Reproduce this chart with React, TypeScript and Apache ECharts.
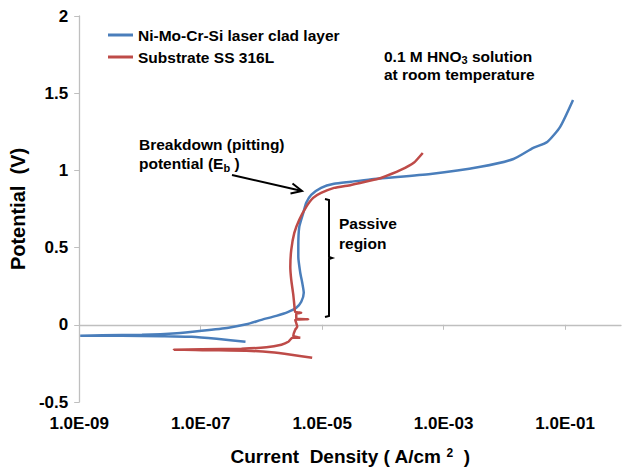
import React, { useEffect, useRef } from "react";
import * as echarts from "echarts";

// Ni-Mo-Cr-Si laser clad layer (blue)
const cladCurrent = [
  5.47e-7, 1.83e-7, 7.1e-8, 2.3e-8, 5.1e-9, 1.04e-9,
  2.4e-9, 1.08e-8, 4.05e-8, 1.04e-7, 2.88e-7, 5.68e-7, 1.0e-6, 1.76e-6, 2.77e-6, 3.75e-6,
  4.53e-6, 4.98e-6, 4.7e-6, 4.36e-6, 4.05e-6, 4.05e-6, 4.2e-6, 4.89e-6, 5.47e-6, 6.6e-6,
  9.6e-6, 1.57e-5, 2.99e-5, 7.1e-5, 6.1e-4, 4.05e-3, 1.41e-2, 2.99e-2, 5.07e-2, 8.28e-2, 0.135,
];
const cladPotential = [
  -0.11, -0.091, -0.078, -0.074, -0.071, -0.071,
  -0.068, -0.065, -0.055, -0.039, -0.019, 0.003, 0.032, 0.058, 0.084, 0.11,
  0.149, 0.207, 0.272, 0.337, 0.44, 0.505, 0.634, 0.725, 0.79, 0.841,
  0.887, 0.913, 0.926, 0.945, 0.977, 1.023, 1.074, 1.146, 1.184, 1.282, 1.456,
];

// Substrate SS 316L (red)
const substrateCurrent = [
  6.85e-6, 3.1e-6, 1.46e-6, 5.68e-7, 1.83e-7, 3.6e-8,
  1.04e-7, 4.7e-7, 1.21e-6, 2.13e-6, 2.77e-6, 3.22e-6, 4.36e-6, 3.35e-6, 3.6e-6, 3.89e-6,
  3.6e-6, 5.89e-6, 3.75e-6, 3.75e-6, 4.53e-6, 3.6e-6, 3.48e-6, 3.35e-6, 3.1e-6, 2.99e-6,
  3.1e-6, 3.48e-6, 4.2e-6, 5.47e-6, 7.1e-6, 9.6e-6, 1.57e-5, 2.99e-5, 7.1e-5, 9.3e-5,
  1.97e-4, 3.22e-4, 4.53e-4,
];
const substratePotential = [
  -0.214, -0.194, -0.178, -0.168, -0.165, -0.162,
  -0.159, -0.155, -0.146, -0.129, -0.11, -0.084, -0.084, -0.071, -0.032, -0.013,
  0.032, 0.036, 0.039, 0.071, 0.078, 0.084, 0.129, 0.194, 0.291, 0.375,
  0.485, 0.595, 0.68, 0.764, 0.822, 0.854, 0.887, 0.906, 0.939, 0.951,
  1.003, 1.049, 1.113,
];

const seriesNames = ["Ni-Mo-Cr-Si laser clad layer", "Substrate SS 316L"];
const seriesColors = ["#4a7ebb", "#be4b48"];
const yTicks = { min: -0.5, max: 2, interval: 0.5 };
const xRange = { min: 1e-9, max: 0.832 };

const FONT = "'Liberation Sans', Arial, sans-serif";

function fmtExp(v: number): string {
  const e = Math.round(Math.log10(v));
  const s = e < 0 ? "-" : "+";
  const a = Math.abs(e);
  return "1.0E" + s + (a < 10 ? "0" + a : String(a));
}

export default function App() {
  const ref = useRef<HTMLDivElement>(null);
  useEffect(() => {
    if (!ref.current) return;
    const chart = echarts.init(ref.current, undefined, { renderer: "svg" });
    const blue = cladCurrent.map((c, i) => [c, cladPotential[i]]);
    const red = substrateCurrent.map((c, i) => [c, substratePotential[i]]);
    chart.setOption({
      animation: false,
      backgroundColor: "#ffffff",
      grid: { left: 77, right: 1, top: 16, bottom: 74, containLabel: false },
      legend: {
        left: 103,
        top: 22,
        orient: "vertical",
        icon: "rect",
        itemWidth: 25,
        itemHeight: 3,
        itemGap: 6,
        textStyle: { fontFamily: FONT, fontWeight: "bold", fontSize: 15.5, color: "#000" },
        data: seriesNames,
      },
      xAxis: {
        type: "log",
        logBase: 10,
        min: xRange.min,
        max: xRange.max,
        interval: 2,
        name: "Current  Density ( A/cm {sup|2}  )",
        nameLocation: "middle",
        nameGap: 45,
        nameTextStyle: {
          fontFamily: FONT,
          fontWeight: "bold",
          fontSize: 19,
          color: "#000",
          rich: {
            sup: { fontFamily: FONT, fontWeight: "bold", fontSize: 12, color: "#000", verticalAlign: "top" },
          },
        },
        axisLine: { show: true, lineStyle: { color: "#bfbfbf", width: 1.3 } },
        axisTick: { show: true, length: 5, lineStyle: { color: "#bfbfbf" } },
        splitLine: { show: false },
        minorTick: { show: false },
        axisLabel: {
          margin: 13,
          showMaxLabel: false,
          fontFamily: FONT,
          fontWeight: "bold",
          fontSize: 17,
          color: "#000",
          formatter: (v: number) => fmtExp(v),
        },
      },
      yAxis: {
        type: "value",
        min: yTicks.min,
        max: yTicks.max,
        interval: yTicks.interval,
        name: "Potential  (V)",
        nameLocation: "middle",
        nameGap: 48,
        nameRotate: 90,
        nameTextStyle: { fontFamily: FONT, fontWeight: "bold", fontSize: 20, color: "#000" },
        axisLine: { show: true, lineStyle: { color: "#bfbfbf", width: 1.3 } },
        axisTick: { show: true, length: 5, lineStyle: { color: "#bfbfbf" } },
        splitLine: { show: false },
        axisLabel: {
          margin: 11,
          fontFamily: FONT,
          fontWeight: "bold",
          fontSize: 17,
          color: "#000",
          formatter: (v: number) => String(v),
        },
      },
      series: [
        {
          name: seriesNames[0],
          type: "line",
          data: blue,
          symbol: "none",
          smooth: 0.2,
          lineStyle: { color: seriesColors[0], width: 2.5 },
          itemStyle: { color: seriesColors[0] },
        },
        {
          name: seriesNames[1],
          type: "line",
          data: red,
          symbol: "none",
          smooth: 0.15,
          lineStyle: { color: seriesColors[1], width: 2.5 },
          itemStyle: { color: seriesColors[1] },
        },
      ],
      graphic: [
        {
          type: "text",
          left: 384,
          top: 47,
          style: {
            text: "0.1 M HNO{sub|3} solution\nat room temperature",
            fontFamily: FONT,
            fontWeight: "bold",
            fontSize: 15.5,
            lineHeight: 18,
            fill: "#000",
            rich: {
              sub: { fontFamily: FONT, fontWeight: "bold", fontSize: 11, fill: "#000", verticalAlign: "bottom" },
            },
          },
        },
        {
          type: "text",
          left: 139,
          top: 135,
          style: {
            text: "Breakdown (pitting)\npotential (E{sub|b} )",
            fontFamily: FONT,
            fontWeight: "bold",
            fontSize: 15.5,
            lineHeight: 19,
            fill: "#000",
            rich: {
              sub: { fontFamily: FONT, fontWeight: "bold", fontSize: 11, fill: "#000", verticalAlign: "bottom" },
            },
          },
        },
        {
          type: "text",
          left: 339,
          top: 213,
          style: {
            text: "Passive\nregion",
            fontFamily: FONT,
            fontWeight: "bold",
            fontSize: 15.5,
            lineHeight: 20,
            fill: "#000",
          },
        },
        {
          type: "line",
          shape: { x1: 232, y1: 175, x2: 301, y2: 190.8 },
          style: { stroke: "#000", lineWidth: 2 },
        },
        {
          type: "polyline",
          shape: { points: [[292.5, 183.5], [302, 191], [290.5, 193.5]] },
          style: { stroke: "#000", lineWidth: 2, fill: null },
        },
        {
          type: "polyline",
          shape: {
            points: [[325, 199], [329, 200], [329, 257], [332, 258], [329, 259], [329, 316], [325, 317]],
          },
          style: { stroke: "#000", lineWidth: 2, fill: null },
        },
      ],
    });
    return () => chart.dispose();
  }, []);
  return (
    <div
      ref={ref}
      style={{ position: "fixed", left: 0, top: 0, width: 622, height: 476, background: "#fff" }}
    />
  );
}
